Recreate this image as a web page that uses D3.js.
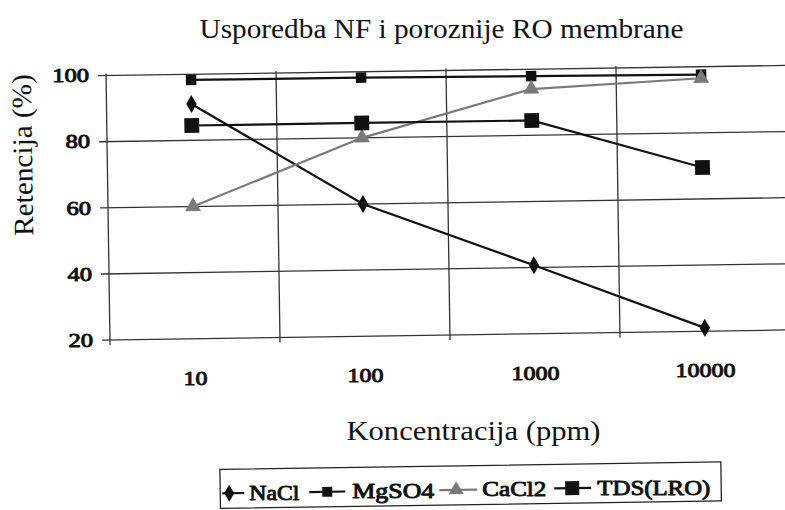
<!DOCTYPE html>
<html>
<head>
<meta charset="utf-8">
<script src="https://cdn.jsdelivr.net/npm/d3@7"></script>
<style>
  body { margin: 0; background: #fff; }
  #wrap { position: relative; width: 785px; height: 510px; }
  svg { display: block; }
  .html-label {
    position: absolute;
    white-space: nowrap;
    font-family: "Liberation Serif";
    color: #111;
    line-height: 1;
  }
</style>
</head>
<body>
<div id="wrap">
  <svg id="chart" width="785" height="510"></svg>
</div>
<script>
// ==============================
// DATA
// ==============================

const categories = ["10", "100", "1000", "10000"];
const yTicks = [20, 40, 60, 80, 100];

const naclValues = [91, 60, 40.7, 21];
const mgso4Values = [98.3, 98.2, 97.9, 97.6];
const cacl2Values = [60, 80, 94, 96.5];
const tdsValues = [84.5, 84.5, 84.5, 69.5];

const seriesNames = ["NaCl", "MgSO4", "CaCl2", "TDS(LRO)"];

const series = [
  { name: seriesNames[0], values: naclValues, color: "#111", marker: "diamond", size: 95 },
  { name: seriesNames[1], values: mgso4Values, color: "#111", marker: "square", size: 110 },
  { name: seriesNames[2], values: cacl2Values, color: "#7a7a7a", marker: "triangle", size: 110 },
  { name: seriesNames[3], values: tdsValues, color: "#111", marker: "square", size: 220 }
];

const symbolTypes = {
  diamond: d3.symbolDiamond,
  square: d3.symbolSquare,
  triangle: d3.symbolTriangle
};

// ==============================
// HELPERS
// ==============================

// the scanned page is slightly tilted
const tilt = -0.85;
const pivot = [445, 205];

function rot(px, py) {
  const a = tilt * Math.PI / 180;
  const dx = px - pivot[0];
  const dy = py - pivot[1];
  return [
    pivot[0] + dx * Math.cos(a) - dy * Math.sin(a),
    pivot[1] + dx * Math.sin(a) + dy * Math.cos(a)
  ];
}

// scanned text is a bit wider than the font, so stretch it to the measured width.
// bold is faked with a thin stroke (bold serif face falls back to a sans here)
function styleText(sel, size, bold, length) {
  sel.style("font-family", '"Liberation Serif"')
    .style("font-size", size + "px")
    .attr("fill", "#111");

  if (bold) {
    sel.attr("stroke", "#111")
      .attr("stroke-width", 0.9)
      .attr("stroke-linejoin", "round");
  }

  if (length) {
    sel.attr("textLength", length)
      .attr("lengthAdjust", "spacingAndGlyphs");
  }
  return sel;
}

// ==============================
// LAYOUT
// ==============================

const svg = d3.select("#chart");

const plot = { left: 108, right: 788, top: 70.5, bottom: 335 };

// marks go in a tilted group, texts are placed at tilted anchor points
const root = svg.append("g")
  .attr("transform", `rotate(${tilt}, ${pivot[0]}, ${pivot[1]})`);

const labels = svg.append("g");

const x = d3.scaleBand()
  .domain(categories)
  .range([plot.left, plot.right]);

const y = d3.scaleLinear()
  .domain([20, 100])
  .range([plot.bottom, plot.top]);

function addText(px, py, str, size, bold, length, anchor) {
  const p = rot(px, py);
  return labels.append("text")
    .attr("x", p[0])
    .attr("y", p[1])
    .attr("text-anchor", anchor || "middle")
    .text(str)
    .call(styleText, size, bold, length);
}

// Title
addText(444, 38, "Usporedba NF i poroznije RO membrane", 28, false, 484);

// Horizontal gridlines
root.append("g")
  .selectAll("line")
  .data(yTicks)
  .enter()
  .append("line")
  .attr("x1", plot.left - 8)
  .attr("x2", plot.right)
  .attr("y1", d => y(d))
  .attr("y2", d => y(d))
  .attr("stroke", "#333")
  .attr("stroke-width", 1.3);

// Vertical gridlines (band boundaries)
const boundaries = categories.map(c => x(c)).concat([x.range()[1]]);

root.append("g")
  .selectAll("line")
  .data(boundaries)
  .enter()
  .append("line")
  .attr("x1", d => d)
  .attr("x2", d => d)
  .attr("y1", plot.top - 2)
  .attr("y2", plot.bottom + 5)
  .attr("stroke", "#333")
  .attr("stroke-width", 1.3);

// Y tick labels
yTicks.forEach(t => {
  addText(91, y(t) + 6.5, String(t), 19, true, String(t).length * 12.3, "end");
});

// X tick labels
categories.forEach(c => {
  addText(x(c) + x.bandwidth() / 2, 381, c, 19, true, c.length * 12);
});

// Y axis title: rotated html text, rotated svg text loses the serif face here
const yTitle = d3.select("#wrap").append("div")
  .attr("class", "html-label")
  .style("font-size", "28px")
  .text("Retencija (%)");

const yTitleWidth = yTitle.node().offsetWidth;
const yTitleCenter = rot(24, 149);
yTitle
  .style("left", yTitleCenter[0] + "px")
  .style("top", yTitleCenter[1] + "px")
  .style("transform",
    `translate(-50%, -50%) rotate(${-90 + tilt}deg) scale(${162 / yTitleWidth}, 1)`);

addText(470, 440, "Koncentracija (ppm)", 28, false, 254);

// ==============================
// SERIES
// ==============================

const line = d3.line()
  .x((d, i) => x(categories[i]) + x.bandwidth() / 2)
  .y(d => y(d));

const seriesGroups = root.append("g")
  .selectAll("g")
  .data(series)
  .enter()
  .append("g");

seriesGroups.append("path")
  .attr("d", d => line(d.values))
  .attr("fill", "none")
  .attr("stroke", d => d.color)
  .attr("stroke-width", 2.2);

seriesGroups.each(function(s) {
  d3.select(this)
    .selectAll("path.marker")
    .data(s.values)
    .enter()
    .append("path")
    .attr("class", "marker")
    .attr("d", d3.symbol().type(symbolTypes[s.marker]).size(s.size))
    .attr("transform", (d, i) => `translate(${x(categories[i]) + x.bandwidth() / 2}, ${y(d)})`)
    .attr("fill", s.color);
});

// ==============================
// LEGEND
// ==============================

const legendOrigin = [216, 466];

const legend = root.append("g")
  .attr("transform", `translate(${legendOrigin[0]}, ${legendOrigin[1]})`);

legend.append("rect")
  .attr("width", 501)
  .attr("height", 39)
  .attr("fill", "none")
  .attr("stroke", "#222")
  .attr("stroke-width", 1.3);

const legendX = [0, 89, 219, 334];
const legendLine = [[2, 24], [0, 36], [0, 38], [0, 37]];
const legendMarker = [9, 18, 17, 18];
const legendTextX = [29, 43, 43, 43];
const legendText = [50, 82, 64, 113];

const legendItems = legend.selectAll("g")
  .data(series)
  .enter()
  .append("g")
  .attr("transform", (d, i) => `translate(${legendX[i]}, 24)`);

legendItems.append("line")
  .attr("x1", (d, i) => legendLine[i][0])
  .attr("x2", (d, i) => legendLine[i][1])
  .attr("stroke", d => d.color)
  .attr("stroke-width", 2.2);

legendItems.append("path")
  .attr("d", d => d3.symbol().type(symbolTypes[d.marker]).size(d.size * 0.9)())
  .attr("transform", (d, i) => `translate(${legendMarker[i]}, 0)`)
  .attr("fill", d => d.color);

series.forEach((s, i) => {
  addText(legendOrigin[0] + legendX[i] + legendTextX[i], legendOrigin[1] + 24 + 7,
    s.name, 20, true, legendText[i], "start");
});
</script>
</body>
</html>
